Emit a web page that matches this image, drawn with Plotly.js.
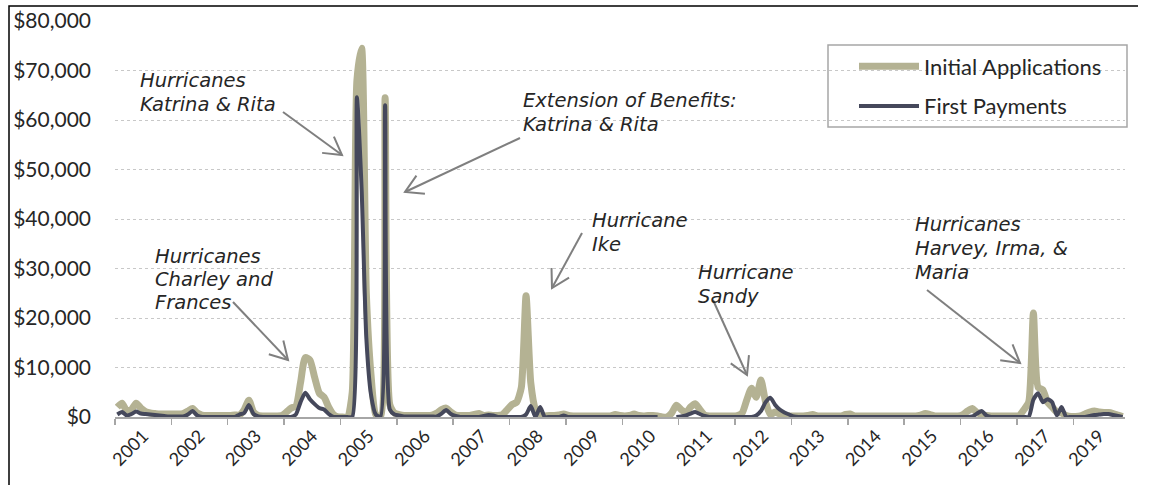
<!DOCTYPE html>
<html><head><meta charset="utf-8">
<script src="https://cdn.plot.ly/plotly-3.0.1.min.js"></script>
<style>html,body{margin:0;padding:0;background:#fff}#chart{width:1156px;height:485px}</style>
</head><body><div id="chart"></div>
<script>
// Tick labels (one per year interval; the source labels the last interval "2019")
const yearLabels = ['2001','2002','2003','2004','2005','2006','2007','2008','2009','2010','2011','2012','2013','2014','2015','2016','2017','2019'];

// Monthly values, one row per year interval
const initialApplications = [
  2000, 2800, 1200, 1500, 2800, 1800, 1100, 800, 700, 600, 600, 600,
  600, 600, 700, 1200, 1700, 800, 400, 300, 300, 300, 300, 300,
  300, 400, 400, 1500, 3400, 1000, 300, 200, 200, 200, 200, 300,
  1000, 1800, 2200, 7000, 12000, 11500, 8000, 4800, 4000, 2000, 500, 0,
  0, 0, 5000, 68000, 74500, 25000, 8500, 500, 0, 64500, 2500, 800,
  500, 300, 300, 300, 300, 300, 300, 400, 800, 1500, 1800, 1000,
  400, 300, 300, 300, 500, 700, 300, 400, 300, 300, 500, 1500,
  2500, 3000, 6000, 24500, 7000, 1500, 0, 200, 300, 300, 400, 600,
  300, 200, 200, 200, 200, 200, 200, 200, 200, 200, 500, 300,
  200, 300, 600, 300, 200, 300, 300, 200, 0, 0, 800, 2400,
  1500, 800, 2000, 2700, 1500, 400, 200, 200, 200, 200, 200, 200,
  300, 800, 3500, 5800, 4000, 7500, 3000, 500, 1000, 600, 300, 200,
  200, 200, 200, 300, 500, 200, 200, 200, 200, 200, 200, 500,
  600, 200, 200, 200, 200, 200, 200, 200, 200, 200, 200, 200,
  200, 200, 200, 400, 700, 500, 200, 200, 200, 200, 200, 200,
  500, 1200, 1700, 900, 500, 300, 200, 200, 200, 200, 200, 200,
  300, 1500, 3000, 21000, 6000, 5500, 3000, 2000, 1000, 800, 300, 100,
  100, 200, 600, 1000, 1200, 1000, 900, 900, 700, 400, 100
];
const firstPayments = [
  500, 1000, 300, 600, 1100, 700, 600, 500, 400, 300, 200, 100,
  100, 100, 100, 500, 1200, 300, 0, 0, 0, 0, 0, 0,
  0, 0, 500, 800, 2400, 600, 100, 0, 0, 0, 0, 0,
  0, 0, 500, 3000, 4900, 3600, 2600, 1800, 1500, 600, 0, 0,
  0, 0, 0, 64600, 46000, 16000, 4500, 500, 0, 63000, 1500, 500,
  300, 100, 100, 100, 100, 100, 100, 100, 100, 700, 1400, 600,
  200, 0, 0, 0, 0, 0, 200, 400, 300, 0, 0, 0,
  0, 0, 0, 500, 2200, 0, 2000, 0, 0, 0, 0, 300,
  0, 0, 0, 0, 0, 0, 0, 0, 0, 0, 0, 0,
  0, 0, 0, 0, 0, 0, 0, 0, null, null, null, 0,
  100, 300, 700, 1000, 600, 200, 0, 0, 0, 0, 0, 0,
  0, 0, 0, 0, 300, 1200, 3000, 3900, 2500, 1500, 900, 500,
  100, 0, 0, 0, 0, 0, 0, 0, 0, 0, 0, 0,
  0, 0, 0, 0, 0, 0, 0, 0, 0, 0, 0, 0,
  0, 0, 0, 0, 0, 0, 0, 0, 0, 0, 0, 0,
  0, 0, 100, 700, 1200, 300, 0, 0, 0, 0, 0, 0,
  0, 0, 0, 3500, 4800, 3000, 3600, 3000, 300, 2000, 0, 0,
  0, 0, 0, 200, 400, 500, 600, 600, 400, 200, 0
];

const nMonths = initialApplications.length;
const monthPos = initialApplications.map((_, i) => i + 0.5);
const boundaries = yearLabels.map((_, k) => k * 12);
const labelPos = yearLabels.map((_, k) => (k * 12 + Math.min(k * 12 + 12, nMonths)) / 2);

const TAN = '#b4b293', NAVY = '#45485b';
const FONT = 'Lato, "Open Sans", sans-serif';
const CALLOUT_FONT = '"DejaVu Sans", Lato, sans-serif';

// layout geometry (px) to place callouts
const L = 115, R = 1125, T = 21, B = 417;
const px2x = p => (p - L) / (R - L);
const px2y = p => (B - p) / (B - T);

// callouts: lines, left px, first baseline px, line spacing px
const callouts = [
  [['Hurricanes', 'Katrina & Rita'], 140, 86.5, 23.5],
  [['Extension of Benefits:', 'Katrina & Rita'], 523, 106, 24],
  [['Hurricanes', 'Charley and', 'Frances'], 155, 262.5, 23],
  [['Hurricane', 'Ike'], 592, 226.5, 23.5],
  [['Hurricane', 'Sandy'], 698, 278, 24],
  [['Hurricanes', 'Harvey, Irma, &', 'Maria'], 915, 230, 24]
];
const arrows = [
  [283, 112, 342, 155],
  [520, 138, 405, 192],
  [233, 302, 288, 360],
  [582, 233, 552, 288],
  [713, 300, 747, 375],
  [927, 290, 1020, 363]
];

const FS = 19.5;
const annotations = callouts.map(([lines, x, base, gap]) => ({
  text: lines.map(s => '<span style="font-size:' + FS + 'px">' + s + '</span>').join('<br>'),
  xref: 'paper', yref: 'paper', x: px2x(x - 1), y: px2y(base - 0.928 * FS),
  xanchor: 'left', yanchor: 'top', align: 'left', showarrow: false, borderpad: 0,
  font: {family: CALLOUT_FONT, size: gap / 1.3, color: '#262626', style: 'italic'}
}));

const shapes = [];
arrows.forEach(([x1, y1, x2, y2]) => {
  const ang = Math.atan2(y1 - y2, x1 - x2);
  const len = 20, spread = 30 * Math.PI / 180;
  const a1 = [x2 + len * Math.cos(ang + spread), y2 + len * Math.sin(ang + spread)];
  const a2 = [x2 + len * Math.cos(ang - spread), y2 + len * Math.sin(ang - spread)];
  const P = (x, y) => px2x(x) + ',' + px2y(y);
  shapes.push({type: 'path', xref: 'paper', yref: 'paper',
    path: 'M' + P(x1, y1) + 'L' + P(x2, y2),
    line: {color: '#7f7f7f', width: 2}});
  shapes.push({type: 'path', xref: 'paper', yref: 'paper',
    path: 'M' + P(a1[0], a1[1]) + 'L' + P(x2, y2) + 'L' + P(a2[0], a2[1]),
    line: {color: '#7f7f7f', width: 2}});
});
// legend frame
shapes.push({type: 'rect', xref: 'paper', yref: 'paper',
  x0: px2x(828), x1: px2x(1127), y0: px2y(127), y1: px2y(45),
  line: {color: '#a6a6a6', width: 1.5}, fillcolor: 'rgba(0,0,0,0)'});
// outer frame of the figure
shapes.push({type: 'path', xref: 'paper', yref: 'paper',
  path: 'M' + px2x(9) + ',' + px2y(495) + 'L' + px2x(9) + ',' + px2y(6) + 'L' + px2x(1138) + ',' + px2y(6),
  line: {color: '#000', width: 1.5}});

const traces = [
  {x: monthPos, y: initialApplications, name: 'Initial Applications', type: 'scatter', mode: 'lines',
   line: {color: TAN, width: 7, shape: 'spline', smoothing: 0.6}, legendgroup: 'a', hoverinfo: 'skip'},
  {x: monthPos, y: firstPayments, name: 'First Payments', type: 'scatter', mode: 'lines',
   line: {color: NAVY, width: 4, shape: 'spline', smoothing: 0.6}, legendgroup: 'b', hoverinfo: 'skip'}
];

const layout = {
  width: 1156, height: 485,
  margin: {l: L, r: 1156 - R, t: T, b: 485 - B},
  paper_bgcolor: '#fff', plot_bgcolor: '#fff',
  showlegend: true,
  legend: {x: px2x(854), y: px2y(45.5), xanchor: 'left', yanchor: 'top',
    borderwidth: 0, bgcolor: 'rgba(0,0,0,0)',
    font: {family: FONT, size: 22, color: '#262626'},
    itemwidth: 60, traceorder: 'grouped', tracegroupgap: 8},
  xaxis: {range: [0, nMonths], showgrid: false, zeroline: false,
    showline: true, linecolor: '#a6a6a6', linewidth: 1.5,
    tickmode: 'array', tickvals: labelPos, ticktext: yearLabels, ticks: '',
    tickangle: -45, ticklabelstandoff: 0,
    tickfont: {family: FONT, size: 18, color: '#262626'},
    minor: {tickmode: 'array', tickvals: boundaries, ticks: 'outside', ticklen: 6,
      tickcolor: '#a6a6a6', tickwidth: 1.5, showgrid: false}},
  yaxis: {range: [0, 80000], tickmode: 'linear', tick0: 0, dtick: 10000,
    tickprefix: '$', tickformat: ',d', showline: false, zeroline: false,
    gridcolor: '#c8c8c8', griddash: 'dot', gridwidth: 1, ticks: '',
    ticklabelstandoff: 23,
    tickfont: {family: FONT, size: 21, color: '#262626'}},
  annotations: annotations,
  shapes: shapes
};

Plotly.newPlot('chart', traces, layout, {staticPlot: true, displayModeBar: false});
</script>
</body></html>
